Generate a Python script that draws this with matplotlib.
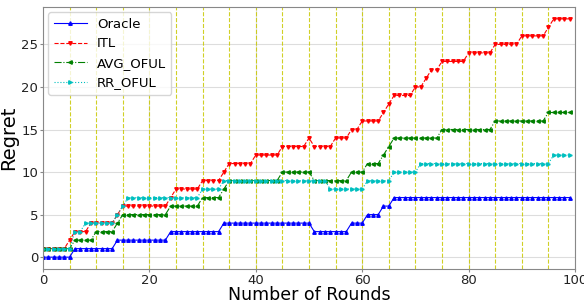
import matplotlib
matplotlib.use("Agg")
from matplotlib import pyplot as plt

# Regret per round (rounds 0..99)
rounds = list(range(100))

oracle = ([0] * 6 + [1] * 8 + [2] * 10 + [3] * 10 + [4] * 17 + [3] * 7
          + [4] * 3 + [5] * 3 + [6] * 2 + [7] * 34)

itl = ([1] * 5 + [2] + [3] * 3 + [4] * 5 + [5] + [6] * 9 + [7] + [8] * 5
       + [9] * 4 + [10] + [11] * 5 + [12] * 5 + [13] * 5 + [14] + [13] * 4
       + [14] * 3 + [15] * 2 + [16] * 4 + [17] + [18] + [19] * 4 + [20] * 2
       + [21] + [22] * 2 + [23] * 5 + [24] * 5 + [25] * 5 + [26] * 5 + [27]
       + [28] * 4)

avg_oful = ([1] * 6 + [2] * 4 + [3] * 4 + [4] + [5] * 9 + [6] * 6 + [7] * 4
            + [8] + [9] * 10 + [10] * 6 + [9] * 7 + [10] * 3 + [11] * 3 + [12]
            + [13] + [14] * 9 + [15] * 10 + [16] * 10 + [17] * 5)

rr_oful = ([1] * 6 + [3] * 2 + [4] * 6 + [5] + [6] + [7] * 14 + [8] * 4
           + [9] * 20 + [8] * 7 + [9] * 5 + [10] * 5 + [11] * 25 + [12] * 4)

labels = ["Oracle", "ITL", "AVG_OFUL", "RR_OFUL"]


def main():
    fig = plt.figure(figsize=(5.84, 3.03), dpi=100)
    ax = fig.add_axes([0.0736, 0.112, 0.911, 0.865])

    # Vertical markers every 5 rounds
    for x in range(5, 100, 5):
        ax.axvline(x, color="#c8c800", linestyle="--", linewidth=0.8, alpha=0.85, zorder=1)

    ax.plot(rounds, oracle, "b-", marker="^", markersize=2.5, linewidth=0.8, label=labels[0])
    ax.plot(rounds, itl, "r--", marker="v", markersize=2.5, linewidth=0.8, label=labels[1])
    ax.plot(rounds, avg_oful, "g-.", marker="<", markersize=2.5, linewidth=0.8, label=labels[2])
    ax.plot(rounds, rr_oful, "c:", marker=">", markersize=2.5, linewidth=0.8, label=labels[3])

    ax.set_xlim(0, 100)
    ax.grid(True, color="#dddddd", linewidth=0.8, zorder=0)
    ax.set_axisbelow(True)
    for s in ax.spines.values():
        s.set_color("#888888")
    ax.tick_params(labelsize=9.5, length=2.5, pad=1, colors="#888888", labelcolor="#222222")

    ax.set_ylabel("Regret", fontsize=14, labelpad=2)
    ax.set_xlabel("Number of Rounds", fontsize=12.5, labelpad=-1)
    ax.legend(loc="upper left", fontsize=9.5, handlelength=2.5, borderaxespad=0.4)

    fig.savefig("out.png", dpi=100)


if __name__ == "__main__":
    main()
